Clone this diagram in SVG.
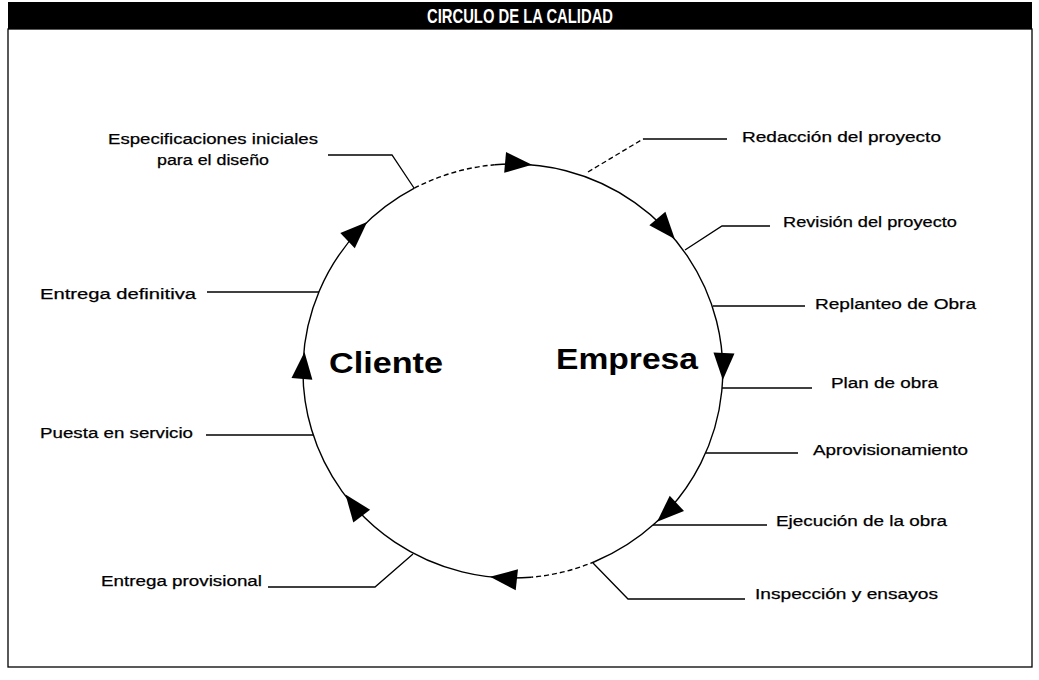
<svg xmlns="http://www.w3.org/2000/svg" xmlns:xlink="http://www.w3.org/1999/xlink" width="1039" height="680" viewBox="0 0 1039 680">
<style>
.lbl{font-family:"Liberation Sans",Arial,sans-serif;font-size:15.5px;fill:#000;stroke:#000;stroke-width:0.25}
.big{font-family:"Liberation Sans",Arial,sans-serif;font-size:29px;font-weight:bold;fill:#000}
.ttl{font-family:"Liberation Sans",Arial,sans-serif;font-size:20px;font-weight:bold;fill:#fff}
.ld{fill:none;stroke:#000;stroke-width:1.3}
.dash{stroke-dasharray:5 3}
.circ{fill:none;stroke:#000;stroke-width:1.4}
</style>
<defs>
<path id="ah" d="M0,0 L-27,-10.5 L-27,10.5 Z" fill="#000"/>
</defs>
<rect width="1039" height="680" fill="#fff"/>
<g id="frame">
<rect x="8" y="2" width="1024" height="27" fill="#000"/>
<rect x="8" y="29" width="1024" height="638" fill="none" stroke="#000" stroke-width="1.3"/>
<text class="ttl" x="520" y="23" text-anchor="middle" textLength="186" lengthAdjust="spacingAndGlyphs">CIRCULO DE LA CALIDAD</text>
</g>
<g id="cycle">
<path class="circ" d="M494.7,164.8 A210,207 0 0 1 595.0,561.5"/>
<path class="circ dash" d="M595.0,561.5 A210,207 0 0 1 531.3,577.2"/>
<path class="circ" d="M531.3,577.2 A210,207 0 0 1 414.4,188.2"/>
<path class="circ dash" d="M414.4,188.2 A210,207 0 0 1 494.7,164.8"/>
<use xlink:href="#ah" transform="translate(532,164.8) rotate(5.1)"/>
<use xlink:href="#ah" transform="translate(674.8,239.1) rotate(49.8)"/>
<use xlink:href="#ah" transform="translate(722.8,380) rotate(92.5)"/>
<use xlink:href="#ah" transform="translate(657.1,521.7) rotate(137.1)"/>
<use xlink:href="#ah" transform="translate(490,576.8) rotate(186.2)"/>
<use xlink:href="#ah" transform="translate(345.5,494.5) rotate(233.1)"/>
<use xlink:href="#ah" transform="translate(304.5,352) rotate(-84.6)"/>
<use xlink:href="#ah" transform="translate(367.1,222.1) rotate(-43.6)"/>
</g>
<g id="connectors">
<polyline class="ld" points="328,155 392,155 414,188"/>
<line class="ld dash" x1="588" y1="172" x2="643" y2="139"/>
<line class="ld" x1="643" y1="139" x2="727" y2="139"/>
<polyline class="ld" points="685,250 722,226 770,226"/>
<line class="ld" x1="713" y1="306" x2="805" y2="306"/>
<line class="ld" x1="722" y1="388" x2="812" y2="388"/>
<line class="ld" x1="706" y1="453" x2="798" y2="453"/>
<line class="ld" x1="653" y1="525" x2="767" y2="525"/>
<polyline class="ld" points="593,563 628,599 745,599"/>
<polyline class="ld" points="268,587 375,587 413,554"/>
<line class="ld" x1="206" y1="435" x2="313" y2="435"/>
<line class="ld" x1="207" y1="292" x2="319" y2="292"/>
</g>
<g id="n-especificaciones">
<text class="lbl" x="213" y="144" text-anchor="middle" textLength="210" lengthAdjust="spacingAndGlyphs">Especificaciones iniciales</text>
<text class="lbl" x="213" y="165" text-anchor="middle" textLength="112" lengthAdjust="spacingAndGlyphs">para el diseño</text>
</g>
<g id="n-redaccion"><text class="lbl" x="742" y="142" textLength="199" lengthAdjust="spacingAndGlyphs">Redacción del proyecto</text></g>
<g id="n-revision"><text class="lbl" x="783" y="227" textLength="174" lengthAdjust="spacingAndGlyphs">Revisión del proyecto</text></g>
<g id="n-replanteo"><text class="lbl" x="815" y="309" textLength="161" lengthAdjust="spacingAndGlyphs">Replanteo de Obra</text></g>
<g id="n-plan"><text class="lbl" x="831" y="388" textLength="107" lengthAdjust="spacingAndGlyphs">Plan de obra</text></g>
<g id="n-aprovisionamiento"><text class="lbl" x="813" y="455" textLength="155" lengthAdjust="spacingAndGlyphs">Aprovisionamiento</text></g>
<g id="n-ejecucion"><text class="lbl" x="776" y="526" textLength="171" lengthAdjust="spacingAndGlyphs">Ejecución de la obra</text></g>
<g id="n-inspeccion"><text class="lbl" x="755" y="599" textLength="183" lengthAdjust="spacingAndGlyphs">Inspección y ensayos</text></g>
<g id="n-entrega-provisional"><text class="lbl" x="101" y="586" textLength="161" lengthAdjust="spacingAndGlyphs">Entrega provisional</text></g>
<g id="n-puesta"><text class="lbl" x="40" y="438" textLength="153" lengthAdjust="spacingAndGlyphs">Puesta en servicio</text></g>
<g id="n-entrega-definitiva"><text class="lbl" x="40" y="299" textLength="156" lengthAdjust="spacingAndGlyphs">Entrega definitiva</text></g>
<g id="n-cliente"><text class="big" x="329" y="373" textLength="114" lengthAdjust="spacingAndGlyphs">Cliente</text></g>
<g id="n-empresa"><text class="big" x="556" y="369" textLength="142" lengthAdjust="spacingAndGlyphs">Empresa</text></g>
</svg>
